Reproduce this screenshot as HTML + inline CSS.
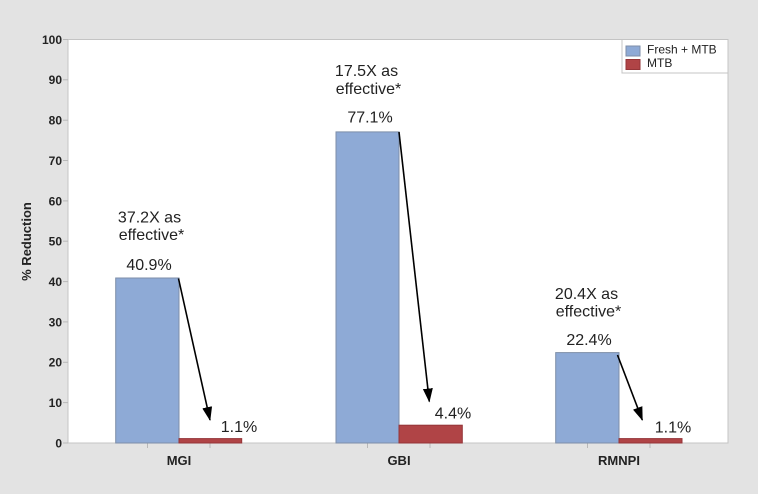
<!DOCTYPE html>
<html><head><meta charset="utf-8"><style>
html,body{margin:0;padding:0;background:#e3e3e3;}
svg{display:block;}
text{font-family:"Liberation Sans",sans-serif;fill:#222;}
</style></head><body>
<svg width="758" height="494" viewBox="0 0 758 494" xmlns="http://www.w3.org/2000/svg">
<defs>
<marker id="ah" markerWidth="14" markerHeight="12" refX="13" refY="6" orient="auto" markerUnits="userSpaceOnUse">
<path d="M0,1 L14,6 L0,11 Z" fill="#000"/>
</marker>
</defs>
<rect x="0" y="0" width="758" height="494" fill="#e3e3e3"/>
<rect x="68" y="39.5" width="660" height="403.5" fill="#fff" stroke="#c4c4c4" stroke-width="1"/>
<g stroke="#b8b8b8" stroke-width="1">
<line x1="63" y1="443" x2="68" y2="443"/>
<line x1="63" y1="402.6" x2="68" y2="402.6"/>
<line x1="63" y1="362.3" x2="68" y2="362.3"/>
<line x1="63" y1="321.9" x2="68" y2="321.9"/>
<line x1="63" y1="281.6" x2="68" y2="281.6"/>
<line x1="63" y1="241.2" x2="68" y2="241.2"/>
<line x1="63" y1="200.9" x2="68" y2="200.9"/>
<line x1="63" y1="160.5" x2="68" y2="160.5"/>
<line x1="63" y1="120.2" x2="68" y2="120.2"/>
<line x1="63" y1="79.8" x2="68" y2="79.8"/>
<line x1="63" y1="39.5" x2="68" y2="39.5"/>
<line x1="147.5" y1="443" x2="147.5" y2="448"/>
<line x1="210" y1="443" x2="210" y2="448"/>
<line x1="367.5" y1="443" x2="367.5" y2="448"/>
<line x1="430" y1="443" x2="430" y2="448"/>
<line x1="587.5" y1="443" x2="587.5" y2="448"/>
<line x1="650" y1="443" x2="650" y2="448"/>
</g>
<g font-size="12" font-weight="bold" text-anchor="end">
<text x="62" y="447.5">0</text>
<text x="62" y="407">10</text>
<text x="62" y="366.7">20</text>
<text x="62" y="326.3">30</text>
<text x="62" y="286">40</text>
<text x="62" y="245.6">50</text>
<text x="62" y="205.3">60</text>
<text x="62" y="164.9">70</text>
<text x="62" y="124.6">80</text>
<text x="62" y="84.2">90</text>
<text x="62" y="43.9">100</text>
</g>
<text x="0" y="0" font-size="13" font-weight="bold" text-anchor="middle" transform="translate(31,241.5) rotate(-90)">% Reduction</text>
<g stroke-width="1">
<rect x="115.7" y="278" width="63.3" height="165" fill="#8eaad6" stroke="#7d8ea8"/>
<rect x="179" y="438.6" width="62.7" height="4.4" fill="#b04446" stroke="#953538"/>
<rect x="336" y="131.9" width="63" height="311.1" fill="#8eaad6" stroke="#7d8ea8"/>
<rect x="399" y="425.2" width="63.3" height="17.8" fill="#b04446" stroke="#953538"/>
<rect x="555.7" y="352.6" width="63.3" height="90.4" fill="#8eaad6" stroke="#7d8ea8"/>
<rect x="619" y="438.6" width="63" height="4.4" fill="#b04446" stroke="#953538"/>
</g>
<g stroke="#000" stroke-width="1.6" marker-end="url(#ah)">
<line x1="178.5" y1="278.5" x2="210" y2="420"/>
<line x1="399" y1="132" x2="429.3" y2="401.5"/>
<line x1="617.5" y1="355" x2="642.3" y2="420"/>
</g>
<g font-size="16" text-anchor="middle" fill="#222">
<text x="149.5" y="222.5">37.2X as</text>
<text x="151.5" y="240">effective*</text>
<text x="149" y="270">40.9%</text>
<text x="239" y="432">1.1%</text>
<text x="366.5" y="76">17.5X as</text>
<text x="368.5" y="94">effective*</text>
<text x="370" y="122.5">77.1%</text>
<text x="453" y="418.5">4.4%</text>
<text x="586.5" y="299">20.4X as</text>
<text x="588.5" y="316.5">effective*</text>
<text x="589" y="345">22.4%</text>
<text x="673" y="432.5">1.1%</text>
</g>
<g font-size="13" font-weight="bold" text-anchor="middle">
<text x="179" y="465">MGI</text>
<text x="399" y="465">GBI</text>
<text x="619" y="465">RMNPI</text>
</g>
<rect x="622" y="39.5" width="106" height="33.5" fill="#fff" stroke="#c4c4c4"/>
<rect x="626" y="46" width="14" height="10" fill="#8eaad6" stroke="#7d8ea8"/>
<rect x="626" y="59.5" width="14" height="10" fill="#b04446" stroke="#953538"/>
<text x="647" y="53.5" font-size="12">Fresh + MTB</text>
<text x="647" y="67" font-size="12">MTB</text>
</svg>
</body></html>
